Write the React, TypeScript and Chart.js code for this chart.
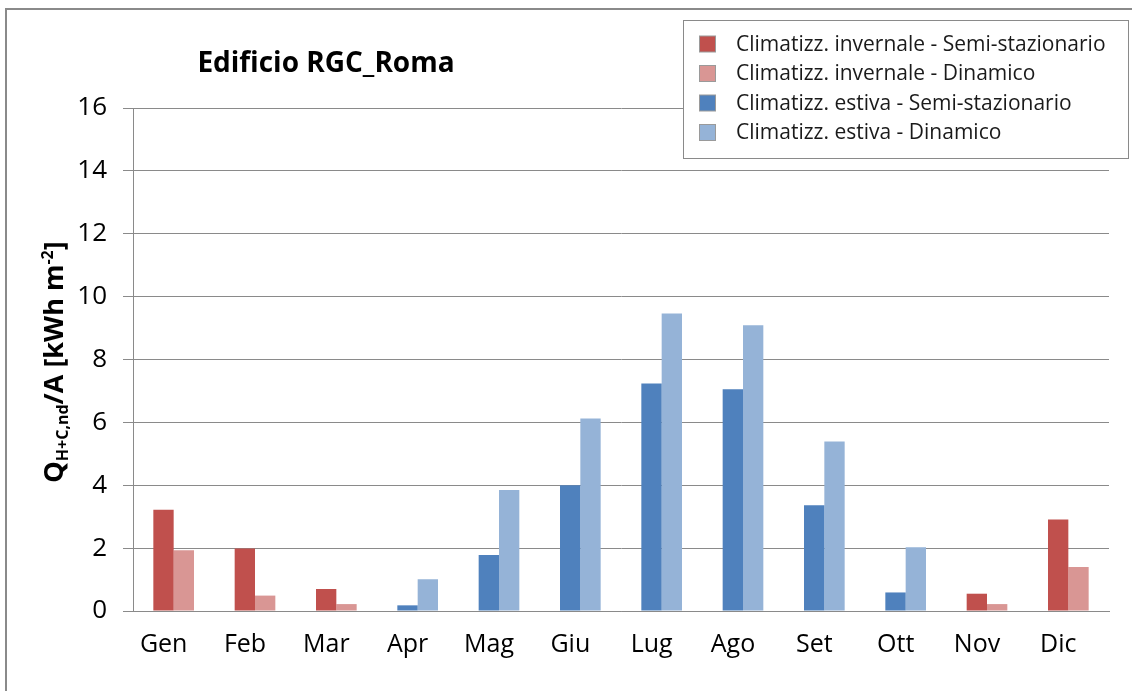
import React, { useEffect, useRef } from "react";
import { Chart, registerables } from "chart.js";

Chart.register(...registerables);

const months = ["Gen", "Feb", "Mar", "Apr", "Mag", "Giu", "Lug", "Ago", "Set", "Ott", "Nov", "Dic"];
const winterSemi: (number | null)[] = [3.22, 1.99, 0.7, null, null, null, null, null, null, null, 0.55, 2.91];
const winterDyn: (number | null)[] = [1.93, 0.49, 0.22, null, null, null, null, null, null, null, 0.22, 1.4];
const summerSemi: (number | null)[] = [null, null, null, 0.18, 1.78, 4.0, 7.24, 7.05, 3.36, 0.59, null, null];
const summerDyn: (number | null)[] = [null, null, null, 1.01, 3.85, 6.12, 9.46, 9.09, 5.39, 2.03, null, null];
const seriesLabels = [
  "Climatizz. invernale - Semi-stazionario",
  "Climatizz. invernale - Dinamico",
  "Climatizz. estiva - Semi-stazionario",
  "Climatizz. estiva - Dinamico",
];
const seriesColors = ["#C0504D", "#D99694", "#4F81BD", "#95B3D7"];
const chartTitle = "Edificio RGC_Roma";

const FONT = "'Open Sans', 'Noto Sans', sans-serif";
const W = 1132;
const H = 691;

const decorPlugin = {
  id: "decor",
  afterDraw(chart: any) {
    const ctx = chart.ctx as CanvasRenderingContext2D;
    ctx.save();
    // outer frame
    ctx.strokeStyle = "#8a8a8a";
    ctx.lineWidth = 2;
    ctx.strokeRect(6, 9, W + 20, H + 20);

    // title
    ctx.fillStyle = "#000";
    ctx.font = `bold 28px ${FONT}`;
    ctx.textAlign = "center";
    ctx.textBaseline = "alphabetic";
    ctx.fillText(chartTitle, 326, 72);

    // y-axis title (rotated, with sub/superscript)
    const parts: [string, number, number][] = [
      ["Q", 27, 0],
      ["H+C,nd", 16, 5],
      ["/A [kWh m", 27, 0],
      ["-2", 16, -10],
      ["]", 27, 0],
    ];
    let total = 0;
    for (const [t, s] of parts) {
      ctx.font = `bold ${s}px ${FONT}`;
      total += ctx.measureText(t).width;
    }
    ctx.translate(63, 362);
    ctx.rotate(-Math.PI / 2);
    ctx.textAlign = "left";
    let x = -total / 2;
    for (const [t, s, dy] of parts) {
      ctx.font = `bold ${s}px ${FONT}`;
      ctx.fillText(t, x, dy);
      x += ctx.measureText(t).width;
    }
    ctx.setTransform(1, 0, 0, 1, 0, 0);

    // legend
    ctx.fillStyle = "#fff";
    ctx.fillRect(683.5, 20.5, 445, 138);
    ctx.strokeStyle = "#8a8a8a";
    ctx.lineWidth = 1;
    ctx.strokeRect(683.5, 20.5, 445, 138);
    ctx.font = `21px ${FONT}`;
    ctx.textBaseline = "middle";
    chart.data.datasets.forEach((ds: any, i: number) => {
      const cy = 44 + i * 29.5;
      ctx.fillStyle = ds.backgroundColor;
      ctx.fillRect(699.5, cy - 8, 16, 16);
      ctx.strokeStyle = "#9a9a9a";
      ctx.strokeRect(699.5, cy - 8, 16, 16);
      ctx.fillStyle = "#1a1a1a";
      ctx.fillText(ds.label, 736, cy + 1);
    });
    ctx.restore();
  },
};

export default function App() {
  const ref = useRef<HTMLCanvasElement | null>(null);
  useEffect(() => {
    if (!ref.current) return;
    const data = [winterSemi, winterDyn, summerSemi, summerDyn];
    const chart = new Chart(ref.current, {
      type: "bar",
      data: {
        labels: months,
        datasets: data.map((d, i) => ({
          label: seriesLabels[i],
          data: d,
          backgroundColor: seriesColors[i],
          borderWidth: 0,
          categoryPercentage: 0.5,
          barPercentage: 1.0,
          skipNull: true,
        })) as any,
      },
      options: {
        animation: false,
        responsive: false,
        maintainAspectRatio: false,
        layout: { padding: { top: 108, right: 23, left: 0, bottom: 0 } },
        plugins: { legend: { display: false }, title: { display: false }, tooltip: { enabled: false } },
        scales: {
          x: {
            grid: { display: false, drawTicks: false },
            border: { display: true, color: "#8a8a8a", width: 1 },
            ticks: { color: "#000", font: { family: FONT, size: 25 }, padding: 19, labelOffset: -10 },
            afterFit: (s: any) => {
              s.height = H - 611;
            },
          },
          y: {
            min: 0,
            max: 16,
            ticks: { stepSize: 2, color: "#000", font: { family: FONT, size: 26 }, padding: 16 },
            grid: { color: "#8a8a8a", tickLength: 10, lineWidth: 1 },
            border: { display: true, color: "#8a8a8a", width: 1 },
            afterFit: (s: any) => {
              s.width = 133;
            },
          },
        },
      },
      plugins: [decorPlugin],
    });
    return () => chart.destroy();
  }, []);
  return (
    <div style={{ position: "absolute", left: 0, top: 0, width: W, height: H, background: "#fff" }}>
      <canvas ref={ref} width={W} height={H} style={{ width: W, height: H, display: "block" }} />
    </div>
  );
}
